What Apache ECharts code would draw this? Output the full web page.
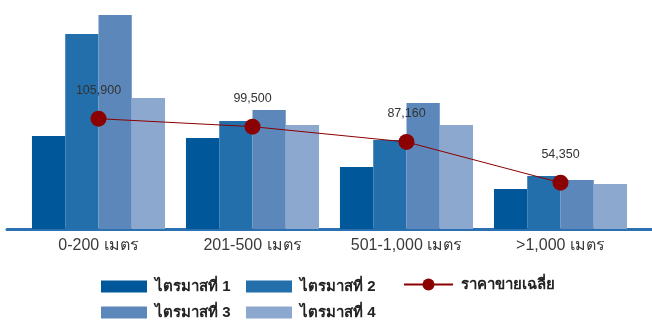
<!DOCTYPE html>
<html><head><meta charset="utf-8">
<script src="https://cdn.jsdelivr.net/npm/echarts@6/dist/echarts.min.js"></script>
<style>html,body{margin:0;padding:0;background:#fff}#c{width:652px;height:320px}</style>
</head><body><div id="c"></div>
<script>
const categories = ['0-200 เมตร', '201-500 เมตร', '501-1,000 เมตร', '>1,000 เมตร'];
const q1 = [93, 91, 62, 40];
const q2 = [195, 108, 89, 53];
const q3 = [214, 119, 126, 49];
const q4 = [131, 104, 104, 45];
const avgPrice = [105900, 99500, 87160, 54350];
const seriesNames = ['ไตรมาสที่ 1', 'ไตรมาสที่ 2', 'ไตรมาสที่ 3', 'ไตรมาสที่ 4', 'ราคาขายเฉลี่ย'];
const colors = ['#00589b', '#226fab', '#5b87bb', '#8da8cf'];
const lineColor = '#8b0000';

const font = 'Arial, "Liberation Sans", "Noto Sans", sans-serif';
const chart = echarts.init(document.getElementById('c'), null, {renderer: 'canvas'});
const barData = [q1, q2, q3, q4];
const series = barData.map((d, i) => ({
  name: seriesNames[i], type: 'bar', data: d, xAxisIndex: 0, yAxisIndex: 0,
  itemStyle: {color: colors[i]}, barGap: '0%', barCategoryGap: '13.6%'
}));
series.push({
  name: seriesNames[4], type: 'line', data: avgPrice, xAxisIndex: 0, yAxisIndex: 1,
  symbol: 'circle', symbolSize: 16, lineStyle: {color: lineColor, width: 1},
  itemStyle: {color: lineColor}, z: 5,
  label: {show: true, position: 'top', distance: 14, color: '#333', fontSize: 12.5, fontFamily: font,
    formatter: p => p.value.toLocaleString('en-US')}
});
function leg(name, left, top) {
  const isLine = name === seriesNames[4];
  return {
    data: [{name: name, icon: isLine ? undefined : 'rect'}], left: left, top: top, orient: 'horizontal', padding: 0,
    itemWidth: isLine ? 49 : 46, itemHeight: isLine ? 15 : 12,
    textStyle: {fontSize: 15, fontWeight: 'bold', color: '#222', fontFamily: font, padding: [0, 0, 0, 3]},
    selectedMode: false
  };
}
chart.setOption({
  animation: false,
  color: colors.concat([lineColor]),
  legend: [
    leg(seriesNames[0], 101, 279),
    leg(seriesNames[1], 246, 279),
    leg(seriesNames[4], 403, 277),
    leg(seriesNames[2], 101, 305),
    leg(seriesNames[3], 246, 305)
  ],
  grid: [
    {left: 21.5, right: 14.5, top: 15, bottom: 91},
    {left: 7, right: 0, top: 15, bottom: 91}
  ],
  xAxis: [
    {type: 'category', data: categories, gridIndex: 0,
      axisLine: {show: false}, axisTick: {show: false},
      axisLabel: {fontSize: 16, color: '#3a3a3a', fontFamily: font, margin: 9}},
    {type: 'category', data: [''], gridIndex: 1,
      axisLine: {show: true, lineStyle: {color: '#2b70b0', width: 3}},
      axisTick: {show: false}, axisLabel: {show: false}}
  ],
  yAxis: [
    {type: 'value', gridIndex: 0, min: 0, max: 214, show: false, splitLine: {show: false}},
    {type: 'value', gridIndex: 0, min: 17066, max: 189410, show: false, splitLine: {show: false}},
    {type: 'value', gridIndex: 1, show: false, splitLine: {show: false}}
  ],
  series: series
});
</script></body></html>
